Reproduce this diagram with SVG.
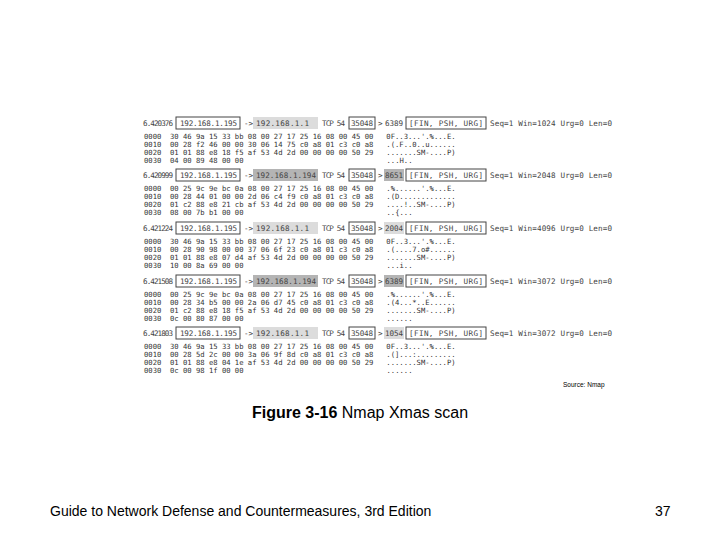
<svg xmlns="http://www.w3.org/2000/svg" width="720" height="540" viewBox="0 0 720 540">
<style>
.m{font-family:"DejaVu Sans Mono",monospace;font-size:7.2px;fill:#333;white-space:pre}
.h{font-family:"DejaVu Sans Mono",monospace;font-size:7.6px;fill:#444}
.b{fill:#fff;stroke:#444;stroke-width:1}
.g1{fill:#dcdcdc}
.g2{fill:#b4b4b4}
.s{font-family:"Liberation Sans",Arial,sans-serif;fill:#000}
</style>
<rect width="720" height="540" fill="#fff"/>
<defs>
<g id="src"><rect class="b" x="176" y="-6" width="64" height="12"/><text class="h" x="180" y="2.7" textLength="57">192.168.1.195</text></g>
</defs>

<g id="p1" transform="translate(0,123)">
<text class="h" x="143" y="2.7" textLength="30">6.420376</text>
<use href="#src"/>
<text class="h" x="244" y="2.7">-&gt;</text>
<rect class="g1" x="253" y="-6" width="65" height="12"/><text class="h" x="256" y="2.7" textLength="53">192.168.1.1</text>
<text class="h" x="322" y="2.7" textLength="23">TCP 54</text>
<rect class="b" x="349" y="-6" width="26" height="12"/><text class="h" x="351" y="2.7" textLength="22">35048</text>
<text class="h" x="378" y="2.7">&gt;</text>
<text class="h" x="385" y="2.7" textLength="18">6389</text>
<rect class="b" x="406" y="-6" width="80" height="12"/><text class="h" x="409" y="2.7" textLength="74">[FIN, PSH, URG]</text>
<text class="h" x="490" y="2.7" textLength="122">Seq=1 Win=1024 Urg=0 Len=0</text>
<text class="m" x="144" y="15.5">0000  30 46 9a 15 33 bb 08 00 27 17 25 16 08 00 45 00   0F..3...'.%...E.</text>
<text class="m" x="144" y="23.5">0010  00 28 f2 46 00 00 30 06 14 75 c0 a8 01 c3 c0 a8   .(.F..0..u......</text>
<text class="m" x="144" y="31.5">0020  01 01 88 e8 18 f5 af 53 4d 2d 00 00 00 00 50 29   .......SM-....P)</text>
<text class="m" x="144" y="39.5">0030  04 00 89 48 00 00</text><text class="m" x="386.5" y="39.5">...H..</text>
</g>

<g id="p2" transform="translate(0,175)">
<text class="h" x="143" y="2.7" textLength="30">6.420999</text>
<use href="#src"/>
<text class="h" x="244" y="2.7">-&gt;</text>
<rect class="g2" x="253" y="-6" width="65" height="12"/><text class="h" x="256" y="2.7" textLength="60">192.168.1.194</text>
<text class="h" x="322" y="2.7" textLength="23">TCP 54</text>
<rect class="b" x="349" y="-6" width="26" height="12"/><text class="h" x="351" y="2.7" textLength="22">35048</text>
<text class="h" x="378" y="2.7">&gt;</text>
<rect class="g2" x="384" y="-6" width="20" height="12"/><text class="h" x="385" y="2.7" textLength="18">8651</text>
<rect class="b" x="406" y="-6" width="80" height="12"/><text class="h" x="409" y="2.7" textLength="74">[FIN, PSH, URG]</text>
<text class="h" x="490" y="2.7" textLength="122">Seq=1 Win=2048 Urg=0 Len=0</text>
<text class="m" x="144" y="15.5">0000  00 25 9c 9e bc 0a 08 00 27 17 25 16 08 00 45 00   .%......'.%...E.</text>
<text class="m" x="144" y="23.5">0010  00 28 44 01 00 00 2d 06 c4 f9 c0 a8 01 c3 c0 a8   .(D.............</text>
<text class="m" x="144" y="31.5">0020  01 c2 88 e8 21 cb af 53 4d 2d 00 00 00 00 50 29   ....!..SM-....P)</text>
<text class="m" x="144" y="39.5">0030  08 00 7b b1 00 00</text><text class="m" x="386.5" y="39.5">..{...</text>
</g>

<g id="p3" transform="translate(0,228)">
<text class="h" x="143" y="2.7" textLength="30">6.421224</text>
<use href="#src"/>
<text class="h" x="244" y="2.7">-&gt;</text>
<rect class="g1" x="253" y="-6" width="65" height="12"/><text class="h" x="256" y="2.7" textLength="53">192.168.1.1</text>
<text class="h" x="322" y="2.7" textLength="23">TCP 54</text>
<rect class="b" x="349" y="-6" width="26" height="12"/><text class="h" x="351" y="2.7" textLength="22">35048</text>
<text class="h" x="378" y="2.7">&gt;</text>
<rect class="g1" x="384" y="-6" width="20" height="12"/><text class="h" x="385" y="2.7" textLength="18">2004</text>
<rect class="b" x="406" y="-6" width="80" height="12"/><text class="h" x="409" y="2.7" textLength="74">[FIN, PSH, URG]</text>
<text class="h" x="490" y="2.7" textLength="122">Seq=1 Win=4096 Urg=0 Len=0</text>
<text class="m" x="144" y="15.5">0000  30 46 9a 15 33 bb 08 00 27 17 25 16 08 00 45 00   0F..3...'.%...E.</text>
<text class="m" x="144" y="23.5">0010  00 28 90 98 00 00 37 06 6f 23 c0 a8 01 c3 c0 a8   .(....7.o#......</text>
<text class="m" x="144" y="31.5">0020  01 01 88 e8 07 d4 af 53 4d 2d 00 00 00 00 50 29   .......SM-....P)</text>
<text class="m" x="144" y="39.5">0030  10 00 8a 69 00 00</text><text class="m" x="386.5" y="39.5">...i..</text>
</g>

<g id="p4" transform="translate(0,281)">
<text class="h" x="143" y="2.7" textLength="30">6.421508</text>
<use href="#src"/>
<text class="h" x="244" y="2.7">-&gt;</text>
<rect class="g2" x="253" y="-6" width="65" height="12"/><text class="h" x="256" y="2.7" textLength="60">192.168.1.194</text>
<text class="h" x="322" y="2.7" textLength="23">TCP 54</text>
<rect class="b" x="349" y="-6" width="26" height="12"/><text class="h" x="351" y="2.7" textLength="22">35048</text>
<text class="h" x="378" y="2.7">&gt;</text>
<rect class="g2" x="384" y="-6" width="20" height="12"/><text class="h" x="385" y="2.7" textLength="18">6389</text>
<rect class="b" x="406" y="-6" width="80" height="12"/><text class="h" x="409" y="2.7" textLength="74">[FIN, PSH, URG]</text>
<text class="h" x="490" y="2.7" textLength="122">Seq=1 Win=3072 Urg=0 Len=0</text>
<text class="m" x="144" y="15.5">0000  00 25 9c 9e bc 0a 08 00 27 17 25 16 08 00 45 00   .%......'.%...E.</text>
<text class="m" x="144" y="23.5">0010  00 28 34 b5 00 00 2a 06 d7 45 c0 a8 01 c3 c0 a8   .(4...*..E......</text>
<text class="m" x="144" y="31.5">0020  01 c2 88 e8 18 f5 af 53 4d 2d 00 00 00 00 50 29   .......SM-....P)</text>
<text class="m" x="144" y="39.5">0030  0c 00 80 87 00 00</text><text class="m" x="386.5" y="39.5">......</text>
</g>

<g id="p5" transform="translate(0,333)">
<text class="h" x="143" y="2.7" textLength="30">6.421803</text>
<use href="#src"/>
<text class="h" x="244" y="2.7">-&gt;</text>
<rect class="g1" x="253" y="-6" width="65" height="12"/><text class="h" x="256" y="2.7" textLength="53">192.168.1.1</text>
<text class="h" x="322" y="2.7" textLength="23">TCP 54</text>
<rect class="b" x="349" y="-6" width="26" height="12"/><text class="h" x="351" y="2.7" textLength="22">35048</text>
<text class="h" x="378" y="2.7">&gt;</text>
<rect class="g1" x="384" y="-6" width="20" height="12"/><text class="h" x="385" y="2.7" textLength="18">1054</text>
<rect class="b" x="406" y="-6" width="80" height="12"/><text class="h" x="409" y="2.7" textLength="74">[FIN, PSH, URG]</text>
<text class="h" x="490" y="2.7" textLength="122">Seq=1 Win=3072 Urg=0 Len=0</text>
<text class="m" x="144" y="15.5">0000  30 46 9a 15 33 bb 08 00 27 17 25 16 08 00 45 00   0F..3...'.%...E.</text>
<text class="m" x="144" y="23.5">0010  00 28 5d 2c 00 00 3a 06 9f 8d c0 a8 01 c3 c0 a8   .(]...:.........</text>
<text class="m" x="144" y="31.5">0020  01 01 88 e8 04 1e af 53 4d 2d 00 00 00 00 50 29   .......SM-....P)</text>
<text class="m" x="144" y="39.5">0030  0c 00 98 1f 00 00</text><text class="m" x="386.5" y="39.5">......</text>
</g>

<text class="s" x="563" y="387" font-size="6.5" fill="#555">Source: Nmap</text>
<text class="s" x="360" y="418" font-size="16" text-anchor="middle"><tspan font-weight="bold">Figure 3-16</tspan>  Nmap Xmas scan</text>
<text class="s" x="50" y="516" font-size="14">Guide to Network Defense and Countermeasures, 3rd Edition</text>
<text class="s" x="655" y="516" font-size="14">37</text>
</svg>
